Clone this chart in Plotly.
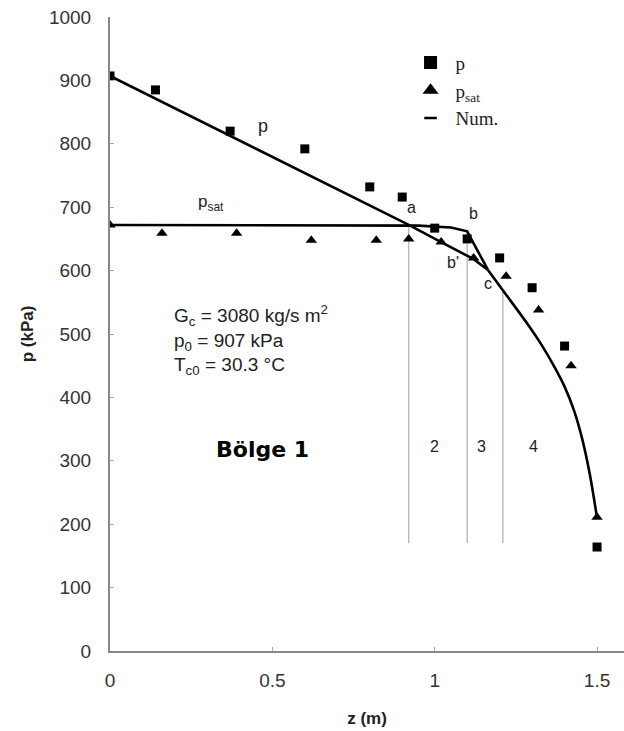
import plotly.graph_objects as go

# measured pressure p (squares)
z_p = [0.0, 0.14, 0.37, 0.60, 0.80, 0.90, 1.00, 1.10, 1.20, 1.30, 1.40, 1.50]
p_meas = [907, 885, 820, 792, 732, 716, 667, 650, 620, 573, 481, 164]

# measured saturation pressure p_sat (triangles)
z_sat = [0.0, 0.16, 0.39, 0.62, 0.82, 0.92, 1.02, 1.12, 1.22, 1.32, 1.42, 1.50]
p_sat_meas = [672, 659, 659, 648, 648, 650, 645, 620, 591, 538, 450, 211]

# numerical p curve, piecewise-linear part (inlet -> a -> b' -> c)
z_num_p = [0.0, 0.92, 1.02, 1.12, 1.164]
p_num_p = [907, 672, 645, 618, 601]

# numerical p_sat curve (flat to b, then down to c)
z_num_sat = [0.0, 0.95, 1.05, 1.10, 1.164]
p_num_sat = [672, 671, 668, 662, 601]

# numerical curve after c (region 4, smooth)
z_num_4 = [1.164, 1.22, 1.28, 1.33, 1.37, 1.40, 1.43, 1.455, 1.478, 1.50]
p_num_4 = [601, 562, 520, 482, 447, 417, 378, 333, 278, 210]

# region boundaries
z_bound = [0.92, 1.10, 1.21]
p_bound_top = [672, 662, 570]
p_bound_bot = 170

fig = go.Figure()

bx, by = [], []
for zb, pt in zip(z_bound, p_bound_top):
    bx += [zb, zb, None]
    by += [pt, p_bound_bot, None]
fig.add_trace(go.Scatter(x=bx, y=by, mode="lines",
                         line=dict(color="#b5b5b5", width=1.3),
                         showlegend=False, hoverinfo="skip"))

for zz, pp, shape in [(z_num_p, p_num_p, "linear"), (z_num_sat, p_num_sat, "linear"),
                      (z_num_4, p_num_4, "spline")]:
    fig.add_trace(go.Scatter(x=zz, y=pp, mode="lines",
                             line=dict(color="black", width=2.6, shape=shape, smoothing=0.8),
                             showlegend=False))

fig.add_trace(go.Scatter(x=z_p, y=p_meas, mode="markers", showlegend=False,
                         marker=dict(symbol="square", size=9, color="black")))
fig.add_trace(go.Scatter(x=z_sat, y=p_sat_meas, mode="markers", showlegend=False,
                         marker=dict(symbol="triangle-up", size=10, color="black")))

# legend entries
fig.add_trace(go.Scatter(x=[None], y=[None], mode="markers", name="p",
                         marker=dict(symbol="square", size=13, color="black")))
fig.add_trace(go.Scatter(x=[None], y=[None], mode="markers", name="p<sub>sat</sub>",
                         marker=dict(symbol="triangle-up", size=14, color="black")))
fig.add_trace(go.Scatter(x=[None], y=[None], mode="markers", name="Num.",
                         marker=dict(symbol="line-ew", size=9,
                                     line=dict(color="black", width=2.5))))

ann_font = dict(family="Liberation Sans, Arial", size=16, color="#222")
annotations = [
    dict(x=0.47, y=828, text="p", font=dict(family="Liberation Sans", size=18, color="#222")),
    dict(x=0.31, y=706, text="p<sub>sat</sub>", font=dict(family="Liberation Sans", size=17, color="#222")),
    dict(x=0.93, y=700, text="a", font=ann_font),
    dict(x=1.12, y=690, text="b", font=ann_font),
    dict(x=1.055, y=612, text="b'", font=ann_font),
    dict(x=1.165, y=580, text="c", font=ann_font),
    dict(x=1.0, y=322, text="2", font=ann_font),
    dict(x=1.145, y=322, text="3", font=ann_font),
    dict(x=1.305, y=322, text="4", font=ann_font),
    dict(x=0.47, y=318, text="<b>Bölge 1</b>",
         font=dict(family="DejaVu Sans", size=22, color="black")),
    dict(x=0.19, y=554, xanchor="left", yanchor="top", align="left",
         text="G<sub>c</sub> = 3080 kg/s m<sup>2</sup><br>p<sub>0</sub> = 907 kPa<br>T<sub>c0</sub> = 30.3 °C",
         font=dict(family="Liberation Sans", size=19, color="#222")),
]
for a in annotations:
    a.update(xref="x", yref="y", showarrow=False)
fig.update_layout(annotations=annotations)

fig.update_layout(
    width=624, height=731,
    margin=dict(l=110, r=0, t=17, b=80),
    plot_bgcolor="white", paper_bgcolor="white",
    showlegend=True,
    legend=dict(x=0.575, y=0.958, xanchor="left", yanchor="top",
                font=dict(family="Liberation Serif", size=19, color="#222"),
                bgcolor="rgba(0,0,0,0)", itemwidth=40, tracegroupgap=0),
    xaxis=dict(range=[0, 1.583], tickvals=[0, 0.5, 1, 1.5], ticktext=["0", "0.5", "1", "1.5"],
               showgrid=False, zeroline=False, showline=True, linecolor="#888", linewidth=2,
               ticks="inside", ticklen=4, tickcolor="#aaa", ticklabelstandoff=11,
               tickfont=dict(family="Liberation Sans", size=19, color="#333"),
               title=dict(text="<b>z (m)</b>", font=dict(family="Liberation Sans", size=17, color="#222"),
                          standoff=22)),
    yaxis=dict(range=[0, 1000], tickvals=list(range(0, 1001, 100)),
               showgrid=False, zeroline=False, showline=True, linecolor="#888", linewidth=2,
               ticks="inside", ticklen=4, tickcolor="#aaa", ticklabelstandoff=13,
               tickfont=dict(family="Liberation Sans", size=19, color="#333"),
               title=dict(text="<b>p (kPa)</b>", font=dict(family="Liberation Sans", size=17, color="#222"),
                          standoff=11)),
)

fig.write_html("out.html")
